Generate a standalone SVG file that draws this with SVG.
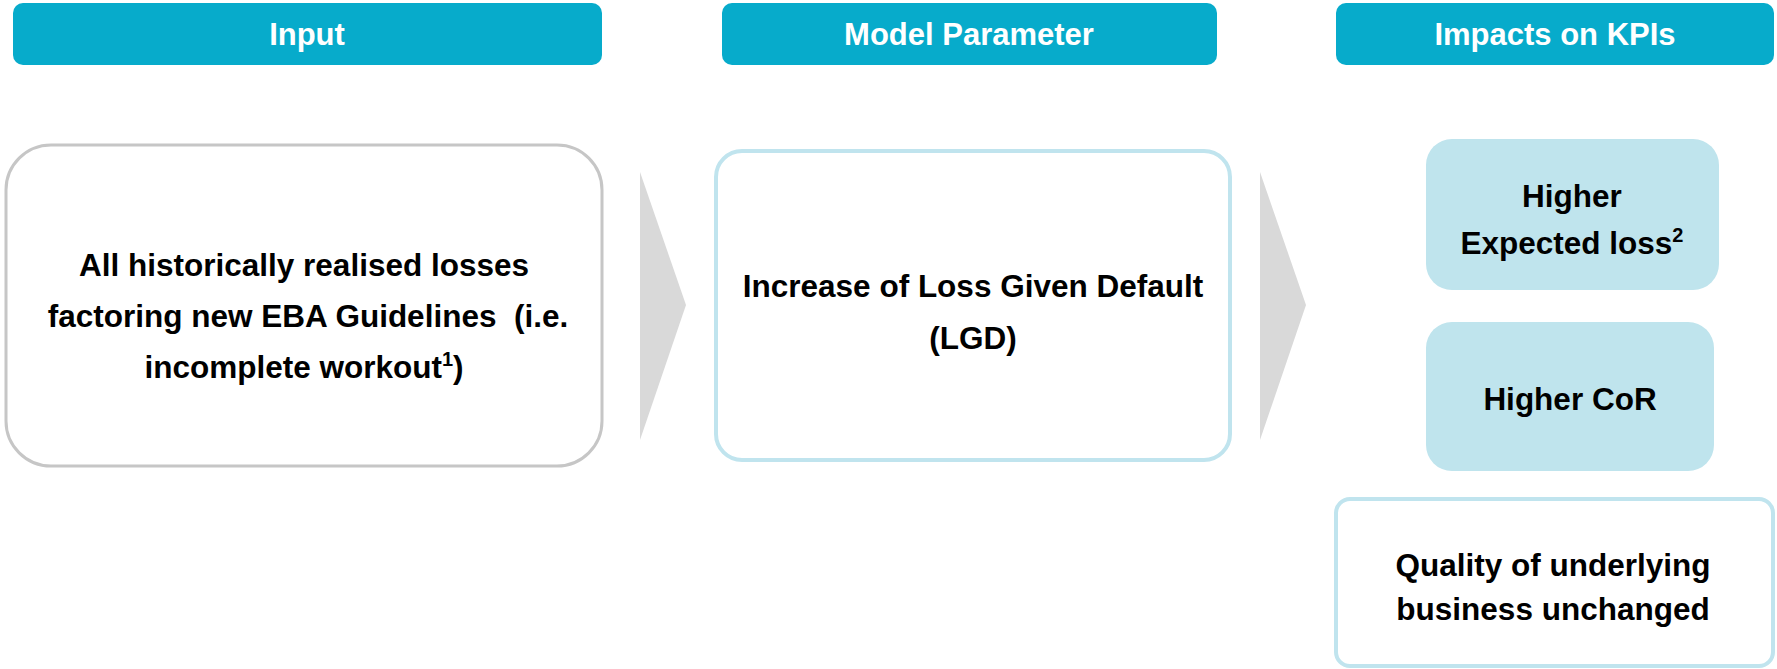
<svg xmlns="http://www.w3.org/2000/svg" width="1777" height="669" viewBox="0 0 1777 669">
<style>
.hdr{fill:#07abcb}
.ht{font-family:"Liberation Sans",Arial,sans-serif;font-weight:bold;font-size:31px;fill:#ffffff;text-anchor:middle}
.bt{font-family:"Liberation Sans",Arial,sans-serif;font-weight:bold;font-size:31.5px;fill:#000000;text-anchor:middle}
.sup{font-size:20px}
.arrow{fill:#d9d9d9}
</style>
<rect width="1777" height="669" fill="#ffffff"/>
<g id="hdr-input"><rect class="hdr" x="13" y="3" width="589" height="62" rx="10"/><text class="ht" x="307" y="45">Input</text></g>
<g id="hdr-model"><rect class="hdr" x="722" y="3" width="495" height="62" rx="10"/><text class="ht" x="969" y="45">Model Parameter</text></g>
<g id="hdr-kpi"><rect class="hdr" x="1336" y="3" width="438" height="62" rx="10"/><text class="ht" x="1555" y="45">Impacts on KPIs</text></g>
<g id="input-box"><rect x="6" y="145" width="596" height="321" rx="45" fill="#ffffff" stroke="#c6c6c6" stroke-width="3"/>
<text class="bt" x="304" y="276">All historically realised losses</text>
<text class="bt" x="308" y="327" xml:space="preserve">factoring new EBA Guidelines  (i.e.</text>
<text class="bt" x="304" y="378">incomplete workout<tspan class="sup" dy="-12">1</tspan><tspan dy="12">)</tspan></text></g>
<g id="lgd-box"><rect x="716" y="151" width="514" height="309" rx="26" fill="#ffffff" stroke="#c0e4ee" stroke-width="4"/>
<text class="bt" x="973" y="297">Increase of Loss Given Default</text>
<text class="bt" x="973" y="349">(LGD)</text></g>
<g id="el-box"><rect x="1426" y="139" width="293" height="151" rx="26" fill="#bfe4ed"/>
<text class="bt" x="1572" y="207">Higher</text>
<text class="bt" x="1572" y="254">Expected loss<tspan class="sup" dy="-12">2</tspan></text></g>
<g id="cor-box"><rect x="1426" y="322" width="288" height="149" rx="26" fill="#bfe4ed"/>
<text class="bt" x="1570" y="410">Higher CoR</text></g>
<g id="quality-box"><rect x="1336" y="499" width="437" height="167" rx="14" fill="#ffffff" stroke="#c0e4ee" stroke-width="4"/>
<text class="bt" x="1553" y="576">Quality of underlying</text>
<text class="bt" x="1553" y="620">business unchanged</text></g>
<g id="connectors">
<polygon class="arrow" points="640,172 686,305 640,440"/>
<polygon class="arrow" points="1260,172 1306,305 1260,440"/>
</g>
</svg>
